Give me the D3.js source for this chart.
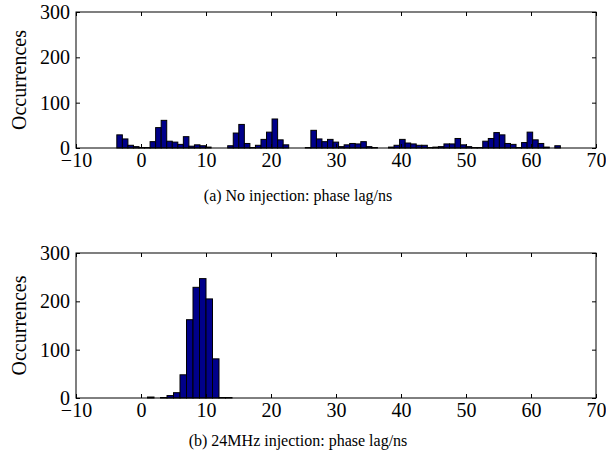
<!DOCTYPE html>
<html>
<head>
<meta charset="utf-8">
<script src="https://cdn.jsdelivr.net/npm/d3@7"></script>
<style>
  body { margin: 0; background: #fff; }
  svg text { font-family: "Liberation Serif", "DejaVu Serif", serif; fill: #000; }
</style>
</head>
<body>
<svg id="chart" width="606" height="468"></svg>
<script>
// histogram (a): no injection, 80 equal bins
var noInjStart = -3.72;
var noInjBinWidth = 0.853;
var noInjCounts = [29, 20, 6, 3, 1, 1, 14, 45, 61, 15, 13, 8, 25, 4, 7, 5, 2, 0, 0, 0,
  5, 33, 52, 10, 1, 6, 19, 35, 64, 18, 7, 0, 0, 0, 1, 39, 20, 14, 19, 13,
  3, 7, 10, 9, 14, 3, 1, 0, 0, 2, 6, 19, 11, 9, 6, 6, 1, 2, 3, 9,
  9, 21, 7, 3, 1, 1, 15, 21, 34, 29, 10, 8, 1, 12, 35, 18, 10, 2, 0, 5];

// histogram (b): 24MHz injection, unit bins
var injStart = 0;
var injBinWidth = 1;
var injCounts = [0, 2, 0, 1, 5, 11, 48, 162, 229, 247, 205, 81, 1, 1];

var xTicks = [-10, 0, 10, 20, 30, 40, 50, 60, 70];
var yTicks = [0, 100, 200, 300];
var yLabel = "Occurrences";
var captions = ["(a) No injection: phase lag/ns", "(b) 24MHz injection: phase lag/ns"];

var svg = d3.select("#chart");

var panels = [
  {counts: noInjCounts, start: noInjStart, bw: noInjBinWidth, top: 12, bottom: 148, caption: captions[0], capY: 201},
  {counts: injCounts, start: injStart, bw: injBinWidth, top: 253, bottom: 398, caption: captions[1], capY: 446}
];

var left = 76, right = 596;

panels.forEach(function(p) {
  var x = d3.scaleLinear().domain([-10, 70]).range([left, right]);
  var y = d3.scaleLinear().domain([0, 300]).range([p.bottom, p.top]);
  var g = svg.append("g");

  var bins = p.counts.map(function(c, i) {
    return {x0: p.start + i * p.bw, x1: p.start + (i + 1) * p.bw, n: c};
  }).filter(function(d) { return d.n > 0; });

  g.selectAll("rect.bar").data(bins).enter().append("rect")
    .attr("class", "bar")
    .attr("x", function(d) { return x(d.x0); })
    .attr("width", function(d) { return x(d.x1) - x(d.x0); })
    .attr("y", function(d) { return y(d.n); })
    .attr("height", function(d) { return y(0) - y(d.n); })
    .attr("fill", "#00008a")
    .attr("stroke", "#000")
    .attr("stroke-width", 1);

  // ticks point inward on all four sides
  var fs = "20px";
  var bot = g.append("g").attr("transform", "translate(0," + p.bottom + ")")
    .call(d3.axisBottom(x).tickValues(xTicks).tickSize(-4).tickPadding(5)
      .tickFormat(d3.format("d")));
  var topAx = g.append("g").attr("transform", "translate(0," + p.top + ")")
    .call(d3.axisTop(x).tickValues(xTicks).tickSize(-4).tickFormat(""));
  var lft = g.append("g").attr("transform", "translate(" + left + ",0)")
    .call(d3.axisLeft(y).tickValues(yTicks).tickSize(-4).tickPadding(6));
  var rgt = g.append("g").attr("transform", "translate(" + right + ",0)")
    .call(d3.axisRight(y).tickValues(yTicks).tickSize(-4).tickFormat(""));

  [bot, topAx, lft, rgt].forEach(function(a) {
    a.select(".domain").remove();
    a.selectAll("line").attr("stroke", "#000");
    a.selectAll("text").attr("font-size", fs).attr("font-family", null);
  });

  g.append("rect")
    .attr("x", left).attr("y", p.top)
    .attr("width", right - left).attr("height", p.bottom - p.top)
    .attr("fill", "none").attr("stroke", "#000").attr("stroke-width", 1);

  g.append("text")
    .attr("transform", "translate(26," + ((p.top + p.bottom) / 2) + ") rotate(-90)")
    .attr("text-anchor", "middle")
    .attr("font-size", "20px")
    .text(yLabel);

  g.append("text")
    .attr("x", 298).attr("y", p.capY)
    .attr("text-anchor", "middle")
    .attr("font-size", "16px")
    .text(p.caption);
});
</script>
</body>
</html>
